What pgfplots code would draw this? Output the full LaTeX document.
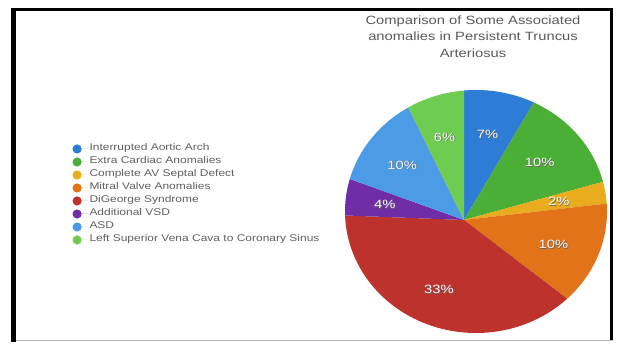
\documentclass[border=0pt]{standalone}
\usepackage{pgfplots}
\usepackage{pgfplotstable}
\pgfplotsset{compat=1.18}
\usepackage{fontspec}
\setmainfont{Liberation Sans}
\newfontfamily\wide[FakeStretch=1.23]{Liberation Sans}

\definecolor{cA}{RGB}{45,125,215}
\definecolor{cB}{RGB}{75,175,55}
\definecolor{cC}{RGB}{232,172,30}
\definecolor{cD}{RGB}{226,115,25}
\definecolor{cE}{RGB}{190,50,45}
\definecolor{cF}{RGB}{112,45,165}
\definecolor{cG}{RGB}{75,155,230}
\definecolor{cH}{RGB}{110,205,80}
\definecolor{titlegray}{RGB}{90,90,90}
\definecolor{legendgray}{RGB}{95,95,95}

\pgfplotstableread[col sep=comma]{
value,color,name
7,cA,Interrupted Aortic Arch
10,cB,Extra Cardiac Anomalies
2,cC,Complete AV Septal Defect
10,cD,Mitral Valve Anomalies
33,cE,DiGeorge Syndrome
4,cF,Additional VSD
10,cG,ASD
6,cH,Left Superior Vena Cava to Coronary Sinus
}\pietable

% pie geometry (pixel units of the 618x342 picture)
\def\cx{476}\def\cy{130.5}\def\rx{131}\def\ry{121.5}
\def\ax{464}\def\ay{122}
\pgfmathsetmacro\uo{(\ax-\cx)/\rx}
\pgfmathsetmacro\vo{(\ay-\cy)/\ry}
\pgfmathsetmacro\pk{\rx/\ry}

% ray from apex in direction #1 -> ellipse parameter \rphi and scaled distance \rs
\newcommand\rayphi[1]{%
  \pgfmathsetmacro\cth{cos(#1)}%
  \pgfmathsetmacro\sth{\pk*sin(#1)}%
  \pgfmathsetmacro\qA{(\cth)*(\cth)+(\sth)*(\sth)}%
  \pgfmathsetmacro\qB{2*((\uo)*(\cth)+(\vo)*(\sth))}%
  \pgfmathsetmacro\qC{(\uo)*(\uo)+(\vo)*(\vo)-1}%
  \pgfmathsetmacro\rs{(-(\qB)+sqrt((\qB)*(\qB)-4*(\qA)*(\qC)))/(2*(\qA))}%
  \pgfmathsetmacro\rphi{atan2((\vo)+(\rs)*(\sth),(\uo)+(\rs)*(\cth))}%
}

\begin{document}
\begin{tikzpicture}
% totals and slice angles
\pgfplotstablegetrowsof{\pietable}
\pgfmathtruncatemacro\nlast{\pgfplotsretval-1}
\def\myTotal{0}
\pgfplotsforeachungrouped \i in {0,...,\nlast}{%
  \pgfplotstablegetelem{\i}{value}\of\pietable
  \pgfmathsetmacro\myTotal{\myTotal+\pgfplotsretval}%
}
\def\myCum{0}
\pgfplotsforeachungrouped \i in {0,...,\nlast}{%
  \pgfplotstablegetelem{\i}{value}\of\pietable
  \let\myV\pgfplotsretval
  \pgfmathsetmacro\tha{90-\myCum/\myTotal*360}%
  \pgfmathsetmacro\myCum{\myCum+\myV}%
  \pgfmathsetmacro\thb{90-\myCum/\myTotal*360}%
  \pgfmathsetmacro\thm{(\tha+\thb)/2}%
  \rayphi{\tha}\let\myPa\rphi
  \rayphi{\thb}\let\myPbraw\rphi
  \pgfmathsetmacro\myPb{(\myPbraw)>(\myPa) ? (\myPbraw)-360 : (\myPbraw)}%
  \rayphi{\thm}%
  \pgfmathsetmacro\myLx{\ax+0.67*\rx*(\rs)*cos(\thm)}%
  \pgfmathsetmacro\myLy{\ay+0.67*\rx*(\rs)*sin(\thm)}%
  \expandafter\xdef\csname phia\i\endcsname{\myPa}%
  \expandafter\xdef\csname phib\i\endcsname{\myPb}%
  \expandafter\xdef\csname lx\i\endcsname{\myLx}%
  \expandafter\xdef\csname ly\i\endcsname{\myLy}%
}
\begin{axis}[
  width=618pt, height=342pt, scale only axis,
  xmin=0, xmax=618, ymin=0, ymax=342,
  hide axis, clip=false,
  legend cell align=left,
  legend style={at={(axis cs:72.5,199.5)}, anchor=north west, draw=none, fill=none,
    inner sep=0pt, outer sep=0pt, row sep=0pt,
    font=\wide\fontsize{9.75}{12}\selectfont, text=legendgray,
    nodes={inner ysep=0pt, inner xsep=1.5pt, text height=8.5pt, text depth=4.5pt}},
]
\path (axis cs:0,0) rectangle (axis cs:618,342);
\pgfplotsforeachungrouped \i in {0,...,\nlast}{%
  \pgfplotstablegetelem{\i}{color}\of\pietable \let\myC\pgfplotsretval
  \pgfplotstablegetelem{\i}{name}\of\pietable \let\myN\pgfplotsretval
  \edef\temp{\noexpand\addplot[fill=\myC, draw=none, domain=\csname phib\i\endcsname:\csname phia\i\endcsname, samples=80,
      legend image code/.code={\noexpand\fill[\myC] (4.6pt,0pt) circle (4.6pt); \noexpand\path (0pt,0pt) -- (15.5pt,0pt);}]
    ({\cx+\rx*cos(x)},{\cy+\ry*sin(x)}) -- (axis cs:\ax,\ay) -- cycle;
    \noexpand\addlegendentry{\myN}}%
  \temp
}
\pgfplotsforeachungrouped \i in {0,...,\nlast}{%
  \pgfplotstablegetelem{\i}{value}\of\pietable \let\myV\pgfplotsretval
  \edef\temp{%
    \noexpand\node[text=black!60, font=\noexpand\wide\noexpand\fontsize{12}{14}\noexpand\selectfont, xshift=0.7pt, yshift=-0.7pt] at (axis cs:\csname lx\i\endcsname,\csname ly\i\endcsname) {\myV\noexpand\%};
    \noexpand\node[text=white!94!gray, font=\noexpand\wide\noexpand\fontsize{12}{14}\noexpand\selectfont] at (axis cs:\csname lx\i\endcsname,\csname ly\i\endcsname) {\myV\noexpand\%};}%
  \temp
}
% title
\node[anchor=base, text=titlegray, font=\wide\fontsize{12}{14}\selectfont] at (axis cs:473,317) {Comparison of Some Associated};
\node[anchor=base, text=titlegray, font=\wide\fontsize{12}{14}\selectfont] at (axis cs:473,301.3) {anomalies in Persistent Truncus};
\node[anchor=base, text=titlegray, font=\wide\fontsize{12}{14}\selectfont] at (axis cs:473,284.7) {Arteriosus};
% frame
\draw[black, line width=4.5pt] (axis cs:13.5,0) -- (axis cs:13.5,334.4);
\draw[black, line width=3.5pt] (axis cs:11.25,332.7) -- (axis cs:613,332.7);
\draw[black, line width=3pt] (axis cs:611.5,334.4) -- (axis cs:611.5,2);
\draw[gray!60, line width=1.2pt] (axis cs:16,1.5) -- (axis cs:613,1.5);
\end{axis}
\end{tikzpicture}
\end{document}
